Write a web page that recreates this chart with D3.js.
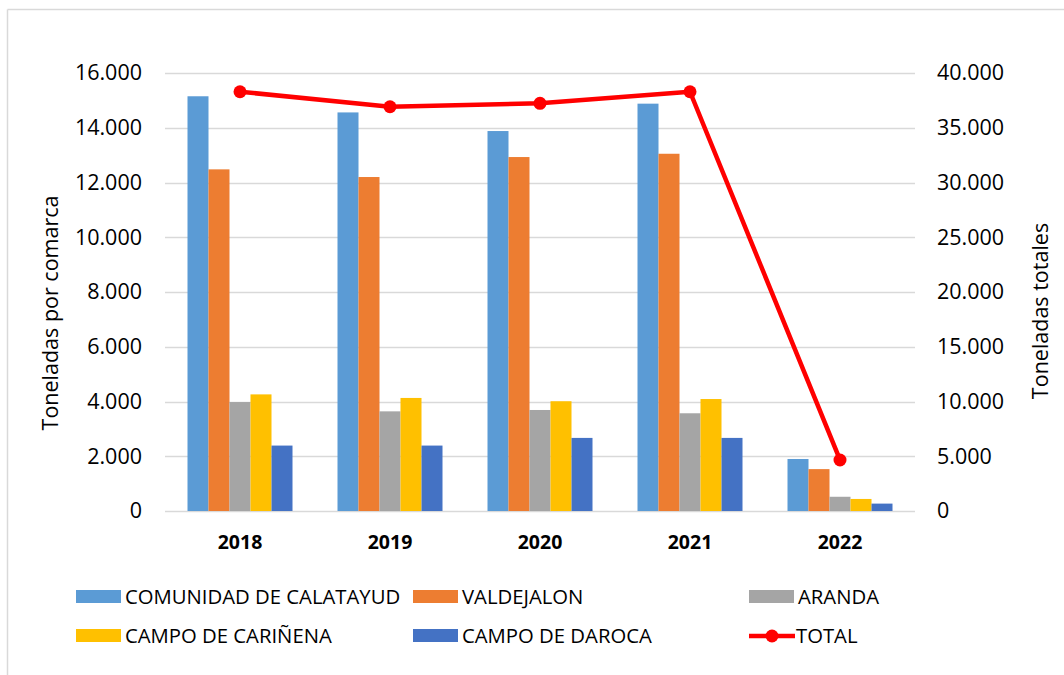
<!DOCTYPE html>
<html lang="es">
<head>
<meta charset="UTF-8">
<title>Toneladas por comarca</title>
<script src="https://d3js.org/d3.v7.min.js"></script>
<style>
  body { margin: 0; background: #fff; }
  svg { display: block; font-family: 'Open Sans', 'Noto Sans', sans-serif; }
</style>
</head>
<body>
<svg id="chart" width="1064" height="675"></svg>
<script>
// data
const years = ["2018", "2019", "2020", "2021", "2022"];
const comarcas = ["COMUNIDAD DE CALATAYUD", "VALDEJALON", "ARANDA", "CAMPO DE CARIÑENA", "CAMPO DE DAROCA"];
const calatayud = [15150, 14560, 13880, 14880, 1900];
const valdejalon = [12480, 12200, 12930, 13050, 1530];
const aranda = [3980, 3640, 3690, 3570, 520];
const carinena = [4260, 4130, 4010, 4090, 440];
const daroca = [2390, 2390, 2670, 2670, 270];
const total = [38290, 36920, 37230, 38290, 4660];
const leftTicks = [0, 2000, 4000, 6000, 8000, 10000, 12000, 14000, 16000];
const rightTicks = [0, 5000, 10000, 15000, 20000, 25000, 30000, 35000, 40000];

const colors = ["#5b9bd5", "#ed7d31", "#a5a5a5", "#ffc000", "#4472c4"];
const series = [calatayud, valdejalon, aranda, carinena, daroca];

const svg = d3.select("#chart");
const fmt = v => d3.format(",")(v).replace(/,/g, ".");

// frame (only top and left edges show in the picture)
svg.append("line").attr("x1", 7.5).attr("x2", 1064).attr("y1", 9.5).attr("y2", 9.5)
  .attr("stroke", "#d9d9d9").attr("stroke-width", 1.5);
svg.append("line").attr("x1", 7.5).attr("x2", 7.5).attr("y1", 9.5).attr("y2", 675)
  .attr("stroke", "#d9d9d9").attr("stroke-width", 1.5);

const x0 = 165, x1 = 915, yTop = 73, yBot = 511;

const x = d3.scaleBand().domain(years).range([x0, x1]).paddingInner(0).paddingOuter(0);
const xs = d3.scaleBand().domain(d3.range(5)).range([0, x.bandwidth() * 0.7]);
const yL = d3.scaleLinear().domain([0, 16000]).range([yBot, yTop]);
const yR = d3.scaleLinear().domain([0, 40000]).range([yBot, yTop]);

// gridlines
svg.append("g").selectAll("line").data(leftTicks).join("line")
  .attr("x1", x0).attr("x2", x1)
  .attr("y1", d => Math.round(yL(d)) + 0.5).attr("y2", d => Math.round(yL(d)) + 0.5)
  .attr("stroke", "#d9d9d9").attr("stroke-width", 1.5);

// left axis
const gL = svg.append("g").attr("transform", `translate(${x0},0)`)
  .call(d3.axisLeft(yL).tickValues(leftTicks).tickFormat(fmt).tickSize(0).tickPadding(23));
gL.select(".domain").remove();
gL.selectAll("text").attr("font-size", 21.5).attr("fill", "#000").attr("font-family", "'Open Sans', sans-serif");

// right axis
const gR = svg.append("g").attr("transform", `translate(${x1},0)`)
  .call(d3.axisRight(yR).tickValues(rightTicks).tickFormat(fmt).tickSize(0).tickPadding(22));
gR.select(".domain").remove();
gR.selectAll("text").attr("font-size", 21.5).attr("fill", "#000").attr("font-family", "'Open Sans', sans-serif");

// bars
const off = x.bandwidth() * 0.15;
series.forEach((vals, i) => {
  svg.append("g").selectAll("rect").data(vals).join("rect")
    .attr("x", (d, j) => x(years[j]) + off + xs(i))
    .attr("width", xs.bandwidth())
    .attr("y", d => yL(d))
    .attr("height", d => yBot - yL(d))
    .attr("fill", colors[i]);
});

// category labels
svg.append("g").selectAll("text").data(years).join("text")
  .attr("x", d => x(d) + x.bandwidth() / 2)
  .attr("y", 549)
  .attr("text-anchor", "middle")
  .attr("font-size", 19.5).attr("font-weight", "bold")
  .text(d => d);

// total line
const line = d3.line().x((d, j) => x(years[j]) + x.bandwidth() / 2).y(d => yR(d));
svg.append("path").datum(total)
  .attr("d", line).attr("fill", "none")
  .attr("stroke", "#ff0000").attr("stroke-width", 4.5).attr("stroke-linejoin", "round");
svg.append("g").selectAll("circle").data(total).join("circle")
  .attr("cx", (d, j) => x(years[j]) + x.bandwidth() / 2)
  .attr("cy", d => yR(d)).attr("r", 6.5).attr("fill", "#ff0000");

// axis titles
svg.append("text")
  .attr("transform", "translate(58,313) rotate(-90)")
  .attr("text-anchor", "middle").attr("font-size", 21.5)
  .text("Toneladas por comarca");
svg.append("text")
  .attr("transform", "translate(1048,311) rotate(-90)")
  .attr("text-anchor", "middle").attr("font-size", 21.5)
  .text("Toneladas totales");

// legend
const legendItems = [
  { name: comarcas[0], color: colors[0], x: 76, y: 597 },
  { name: comarcas[1], color: colors[1], x: 413, y: 597 },
  { name: comarcas[2], color: colors[2], x: 749, y: 597 },
  { name: comarcas[3], color: colors[3], x: 76, y: 636 },
  { name: comarcas[4], color: colors[4], x: 413, y: 636 },
  { name: "TOTAL", color: "#ff0000", x: 749, y: 636, line: true }
];
const lg = svg.append("g").selectAll("g").data(legendItems).join("g")
  .attr("transform", d => `translate(${d.x},${d.y})`);
lg.filter(d => !d.line).append("rect")
  .attr("x", 0).attr("y", -7).attr("width", 45).attr("height", 13)
  .attr("fill", d => d.color);
lg.filter(d => d.line).append("line")
  .attr("x1", 0).attr("x2", 46).attr("y1", 0).attr("y2", 0)
  .attr("stroke", "#ff0000").attr("stroke-width", 4.5);
lg.filter(d => d.line).append("circle")
  .attr("cx", 23).attr("cy", 0).attr("r", 6.5).attr("fill", "#ff0000");
lg.append("text")
  .attr("x", d => d.line ? 47 : 49).attr("y", 0).attr("dy", "0.35em")
  .attr("font-size", 20.3)
  .text(d => d.name);
</script>
</body>
</html>
